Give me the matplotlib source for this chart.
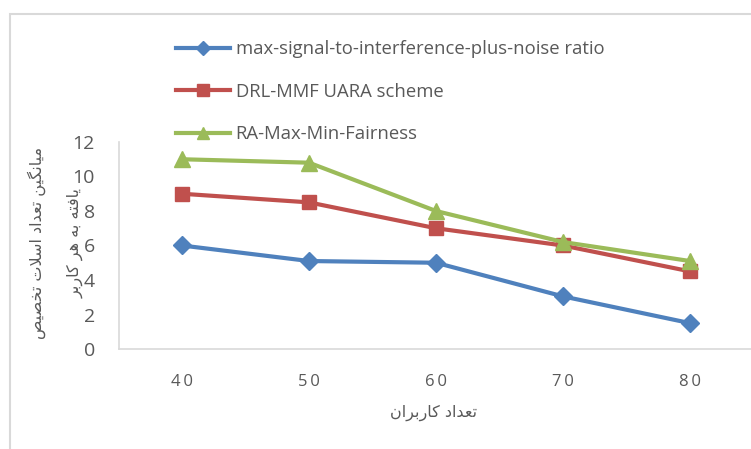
import matplotlib
matplotlib.use("Agg")
import matplotlib.pyplot as plt
from matplotlib.patches import Rectangle

users = [40, 50, 60, 70, 80]
sinr = [6.0, 5.1, 5.0, 3.05, 1.5]
drl = [9.0, 8.5, 7.0, 6.0, 4.5]
ra = [11.0, 10.8, 8.0, 6.2, 5.1]
labels = ["max-signal-to-interference-plus-noise ratio",
          "DRL-MMF UARA scheme",
          "RA-Max-Min-Fairness"]
xlabel = "تعداد کاربران"
ylabel1 = "میانگین تعداد اسلات تخصیص"
ylabel2 = "یافته به هر کاربر"

# arabic presentation forms: (isolated, final, initial, medial)
FORMS = {
    "ا": "\uFE8D\uFE8E", "د": "\uFEA9\uFEAA", "ر": "\uFEAD\uFEAE",
    "ب": "\uFE8F\uFE90\uFE91\uFE92", "ت": "\uFE95\uFE96\uFE97\uFE98",
    "خ": "\uFEA5\uFEA6\uFEA7\uFEA8", "س": "\uFEB1\uFEB2\uFEB3\uFEB4",
    "ص": "\uFEB9\uFEBA\uFEBB\uFEBC", "ع": "\uFEC9\uFECA\uFECB\uFECC",
    "ف": "\uFED1\uFED2\uFED3\uFED4", "ل": "\uFEDD\uFEDE\uFEDF\uFEE0",
    "م": "\uFEE1\uFEE2\uFEE3\uFEE4", "ن": "\uFEE5\uFEE6\uFEE7\uFEE8",
    "ه": "\uFEE9\uFEEA\uFEEB\uFEEC", "ی": "\uFBFC\uFBFD\uFBFE\uFBFF",
    "ک": "\uFB8E\uFB8F\uFB90\uFB91", "گ": "\uFB92\uFB93\uFB94\uFB95",
}


def shape(text):
    out = []
    i = 0
    while i < len(text):
        c = text[i]
        if c not in FORMS:
            out.append(c)
            i += 1
            continue
        p = text[i - 1] if i > 0 else " "
        nx = text[i + 1] if i + 1 < len(text) else " "
        pj = p in FORMS and len(FORMS[p]) == 4
        if c == "ل" and nx == "ا":
            out.append("\uFEFC" if pj else "\uFEFB")
            i += 2
            continue
        nj = len(FORMS[c]) == 4 and nx in FORMS
        f = FORMS[c]
        if pj and nj:
            out.append(f[3])
        elif pj:
            out.append(f[1])
        elif nj:
            out.append(f[2])
        else:
            out.append(f[0])
        i += 1
    return "".join(reversed(out))


grey = "#595959"
plt.rcParams["font.family"] = ["Open Sans", "DejaVu Sans"]

fig = plt.figure(figsize=(7.51, 4.49), dpi=100)
ax = fig.add_axes([118.5 / 751, 1 - 349 / 449, 635 / 751, 207 / 449])

ax.plot(users, sinr, color="#4F81BD", lw=3, marker="D", ms=9, label=labels[0])
ax.plot(users, drl, color="#C0504D", lw=3, marker="s", ms=10, label=labels[1])
ax.plot(users, ra, color="#9BBB59", lw=3, marker="^", ms=11, label=labels[2])

ax.set_xlim(35, 85)
ax.set_ylim(0, 12)
ax.set_xticks(users)
ax.set_xticklabels(["\u2009".join(str(u)) for u in users])
ax.set_yticks(range(0, 13, 2))
ax.tick_params(length=0, colors=grey)
ax.tick_params(axis="x", pad=18, labelsize=12)
ax.tick_params(axis="y", pad=17, labelsize=14)
for s in ["top", "right"]:
    ax.spines[s].set_visible(False)
for s in ["left", "bottom"]:
    ax.spines[s].set_color("#d9d9d9")
    ax.spines[s].set_linewidth(1.2)

fig.text(434 / 751, 1 - 413 / 449, shape(xlabel), family="DejaVu Sans",
         fontsize=11.5, color=grey, ha="center", va="center")
fig.text(37 / 751, 1 - 243 / 449, shape(ylabel1), family="DejaVu Sans",
         fontsize=11.5, color=grey, ha="center", va="center", rotation=90)
fig.text(75 / 751, 1 - 243 / 449, shape(ylabel2), family="DejaVu Sans",
         fontsize=11.5, color=grey, ha="center", va="center", rotation=90)

leg = fig.legend(loc="upper left", bbox_to_anchor=(176 / 751, 1 - 40 / 449),
                 frameon=False, fontsize=13.3, labelspacing=1.33,
                 handlelength=2.9, handletextpad=0.33, borderpad=0,
                 borderaxespad=0, markerscale=0.8)
for t in leg.get_texts():
    t.set_color(grey)

fig.add_artist(Rectangle((10 / 751, -0.1), 1.2, 1.1 - 14 / 449,
                         transform=fig.transFigure, fill=False,
                         edgecolor="#d9d9d9", lw=1.5))

fig.savefig("out.png", dpi=100)
